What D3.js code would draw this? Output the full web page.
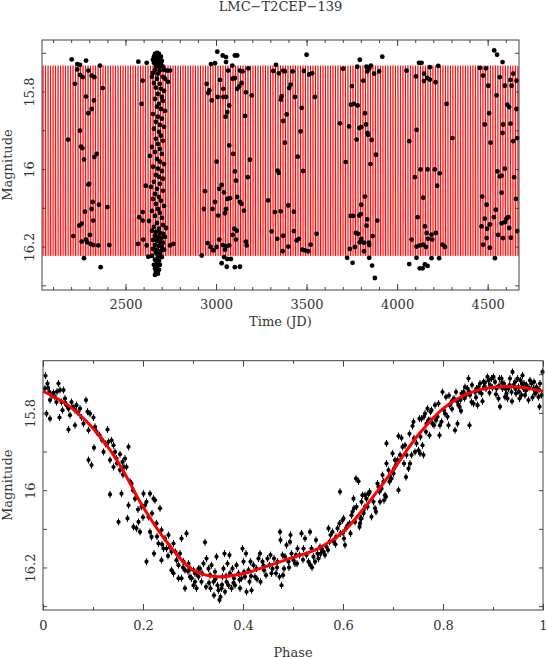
<!DOCTYPE html>
<html>
<head>
<meta charset="utf-8">
<script src="https://cdn.jsdelivr.net/npm/d3@7"></script>
<style>
  body { margin: 0; background: #fff; }
  svg text { font-family: "DejaVu Serif", serif; font-size: 13px; fill: #333; }
</style>
</head>
<body>
<div id="chart"></div>
<script>
const starName = "LMC\u2212T2CEP\u2212139";
const period = 13.8;   // days, read from the stripe spacing
const epoch = 2045;

const timeTicks = [2500, 3000, 3500, 4000, 4500];
const timeMinor = [2100, 2200, 2300, 2400, 2500, 2600, 2700, 2800, 2900, 3000, 3100, 3200, 3300, 3400,
                   3500, 3600, 3700, 3800, 3900, 4000, 4100, 4200, 4300, 4400, 4500, 4600];
const magTicks = [15.8, 16, 16.2];
const magMinor = [15.7, 15.8, 15.9, 16, 16.1, 16.2, 16.3];
const phaseTicks = [0, 0.2, 0.4, 0.6, 0.8, 1];
const phaseMinor = [0.1, 0.3, 0.5, 0.7, 0.9];

// fitted light curve (phase, magnitude)
const modelPhase = [0, 0.05, 0.1, 0.15, 0.2, 0.25, 0.3, 0.35, 0.4, 0.45, 0.5,
                    0.55, 0.6, 0.65, 0.7, 0.75, 0.8, 0.85, 0.9, 0.95, 1];
const modelMag = [15.744, 15.78, 15.84, 15.927, 16.043, 16.138, 16.207, 16.224, 16.216, 16.196, 16.174,
                  16.151, 16.108, 16.034, 15.948, 15.858, 15.789, 15.75, 15.734, 15.733, 15.744];

// observations: [JD - 2450000, I mag]
const timeObs = [
  [2203,15.717],[2282,15.720],[2234,15.729],[2249,15.731],[2221,15.780],[2234,15.743],[2249,15.757],[2264,15.763],
  [2295,15.746],[2313,15.759],[2328,15.763],[2359,15.733],[2374,15.791],[2282,15.813],[2326,15.823],[2313,15.845],
  [2295,15.856],[2249,15.901],[2184,15.924],[2254,15.942],[2262,15.946],[2341,15.961],[2328,15.969],[2271,15.975],
  [2295,16.040],[2300,16.038],[2319,16.085],[2354,16.092],[2400,16.098],[2276,16.110],[2313,16.103],[2322,16.133],
  [2258,16.141],[2245,16.146],[2212,16.173],[2304,16.170],[2258,16.187],[2282,16.182],[2289,16.189],[2308,16.193],
  [2322,16.196],[2350,16.197],[2411,16.196],[2271,16.230],[2363,16.253],
  [2571,15.723],[2617,15.726],[2595,15.772],[2589,15.832],[2612,16.043],[2576,16.124],[2595,16.133],[2595,16.111],
  [2598,16.182],[2569,16.193],[2617,16.197],[2626,16.226],[2746,16.197],[2764,16.193],[2746,15.746],
  [2663,15.703],[2674,15.700],[2685,15.703],[2657,15.710],[2679,15.710],[2696,15.710],[2652,15.718],[2668,15.718],
  [2690,15.718],[2701,15.721],[2657,15.726],[2679,15.726],[2696,15.729],[2668,15.734],[2685,15.736],[2707,15.736],
  [2663,15.744],[2690,15.746],[2713,15.744],[2652,15.752],[2679,15.754],[2729,15.746],
  [2646,15.762],[2674,15.767],[2707,15.762],[2718,15.767],[2657,15.778],[2690,15.780],[2735,15.775],[2668,15.790],
  [2696,15.793],[2713,15.798],[2679,15.806],[2701,15.814],[2663,15.819],[2707,15.824],[2685,15.832],[2674,15.839],
  [2696,15.845],[2718,15.850],[2652,15.858],[2679,15.865],[2701,15.870],[2668,15.878],[2690,15.886],[2713,15.891],
  [2657,15.896],[2685,15.904],[2696,15.914],[2668,15.922],[2707,15.927],[2679,15.935],[2646,15.943],[2690,15.948],
  [2663,15.956],[2701,15.961],[2635,15.966],[2674,15.974],[2690,15.981],[2713,15.987],[2652,15.994],[2679,15.999],
  [2701,16.005],[2668,16.015],[2685,16.020],[2707,16.025],[2657,16.033],[2690,16.038],[2641,16.046],[2674,16.051],
  [2707,16.056],[2663,16.064],[2685,16.072],[2652,16.077],[2696,16.082],[2668,16.090],[2713,16.095],[2679,16.103],
  [2646,16.108],[2690,16.113],[2663,16.121],[2701,16.126],[2630,16.134],[2674,16.139],[2707,16.144],[2657,16.149],
  [2685,16.154],[2724,16.152],
  [2646,16.159],[2668,16.162],[2690,16.165],[2707,16.167],[2663,16.172],[2679,16.175],[2696,16.178],[2718,16.175],
  [2652,16.183],[2674,16.185],[2690,16.188],[2707,16.190],[2663,16.196],[2685,16.198],[2701,16.201],[2652,16.206],
  [2674,16.208],[2696,16.211],[2713,16.208],[2668,16.216],[2690,16.219],[2646,16.224],[2679,16.227],[2701,16.227],
  [2663,16.234],[2685,16.237],[2674,16.242],[2657,16.247],[2690,16.247],[2674,16.252],[2663,16.257],[2685,16.260],
  [2668,16.265],[2679,16.270],[2663,16.273],
  [3007,15.697],[3037,15.707],[3055,15.711],[3104,15.707],[3117,15.707],[3055,15.724],[2972,15.729],[2994,15.727],
  [3090,15.733],[3067,15.746],[3132,15.746],[3147,15.748],[3178,15.740],[3022,15.770],[3092,15.767],[3104,15.765],
  [2948,15.780],[2963,15.797],[2957,15.804],[3040,15.793],[3117,15.793],[3128,15.787],[3141,15.778],[3009,15.814],
  [3040,15.814],[3055,15.814],[2976,15.823],[3073,15.836],[3062,15.853],[3053,15.865],[3160,15.863],[3165,15.802],
  [3197,15.810],[3073,15.939],[3095,15.961],[3003,15.981],[3187,15.976],[3104,16.006],[3110,16.030],[3175,16.021],
  [3031,16.041],[3018,16.051],[3044,16.060],[2939,16.057],[3062,16.077],[3077,16.075],[3117,16.072],[3132,16.085],
  [2994,16.085],[2981,16.103],[2933,16.103],[3055,16.103],[3141,16.090],[3154,16.107],[3012,16.120],[3049,16.114],
  [3101,16.154],[3114,16.159],[3092,16.170],[3110,16.182],[3018,16.182],[2954,16.191],[2970,16.201],[2985,16.210],
  [3003,16.201],[3037,16.196],[3055,16.199],[3073,16.197],[3049,16.208],[3165,16.187],[3169,16.197],[2921,16.223],
  [3044,16.227],[3062,16.232],[3082,16.232],[3031,16.243],[3059,16.252],[3104,16.253],[3132,16.252],[3288,16.081],
  [3331,15.731],[3316,15.747],[3347,15.753],[3371,15.746],[3380,15.748],[3423,15.748],[3500,15.705],[3485,15.747],
  [3515,15.756],[3531,15.753],[3412,15.782],[3404,15.791],[3436,15.814],[3362,15.812],[3358,15.821],[3390,15.859],
  [3371,15.876],[3473,15.842],[3546,15.814],[3467,15.903],[3380,15.932],[3451,15.968],[3340,16.004],[3347,16.010],
  [3481,16.005],[3399,16.094],[3325,16.111],[3357,16.109],[3430,16.110],[3307,16.161],[3371,16.172],[3430,16.160],
  [3338,16.180],[3458,16.180],[3445,16.184],[3555,16.167],[3522,16.195],[3399,16.200],[3368,16.212],[3476,16.208],
  [3491,16.210],[3509,16.212],
  [3918,15.710],[3794,15.718],[3780,15.736],[3831,15.736],[3846,15.740],[3855,15.733],[3702,15.741],[3835,15.748],
  [3873,15.754],[3901,15.748],[3813,15.772],[3750,15.786],[3745,15.834],[3761,15.832],[3782,15.836],[3822,15.856],
  [3684,15.882],[3735,15.890],[3791,15.894],[3802,15.892],[3828,15.885],[3840,15.912],[3837,15.907],[3859,15.925],
  [3776,15.924],[3883,15.963],[3853,15.987],[3716,15.982],[3822,16.071],[3802,16.092],[3743,16.121],[3757,16.121],
  [3791,16.120],[3800,16.116],[3835,16.130],[3831,16.146],[3890,16.133],[3772,16.165],[3785,16.167],[3802,16.180],
  [3865,16.173],[3739,16.206],[3767,16.201],[3794,16.189],[3817,16.190],[3844,16.190],[3817,16.212],[3846,16.196],
  [3724,16.229],[3754,16.242],[3846,16.229],[3862,16.249],[3877,16.281],
  [4052,15.746],[4121,15.726],[4135,15.726],[4104,15.761],[4149,15.754],[4181,15.737],[4227,15.734],[4166,15.765],
  [4181,15.769],[4148,15.773],[4212,15.776],[4273,15.832],[4306,15.920],[4107,15.899],[4067,15.928],[4098,16.021],
  [4129,16.001],[4168,16.001],[4208,16.001],[4236,16.011],[4221,16.043],[4144,16.074],[4113,16.124],[4153,16.148],
  [4163,16.165],[4214,16.165],[4190,16.169],[4171,16.180],[4194,16.182],[4080,16.182],[4107,16.200],[4125,16.197],
  [4144,16.195],[4159,16.201],[4251,16.195],[4264,16.201],[4107,16.229],[4190,16.230],[4232,16.230],[4067,16.245],
  [4153,16.246],[4168,16.250],[4125,16.256],[4141,16.256],
  [4536,15.694],[4552,15.705],[4582,15.724],[4457,15.739],[4490,15.740],[4475,15.759],[4641,15.754],[4567,15.763],
  [4626,15.770],[4659,15.772],[4503,15.785],[4595,15.785],[4632,15.785],[4549,15.810],[4608,15.834],[4619,15.840],
  [4659,15.845],[4508,15.856],[4484,15.885],[4585,15.885],[4626,15.883],[4582,15.907],[4663,15.920],[4641,15.928],
  [4516,15.932],[4554,16.006],[4595,15.999],[4567,16.019],[4577,16.017],[4646,16.021],[4577,16.061],[4470,16.071],
  [4656,16.077],[4494,16.092],[4534,16.124],[4545,16.105],[4484,16.128],[4604,16.128],[4613,16.124],[4577,16.140],
  [4595,16.137],[4466,16.148],[4512,16.143],[4619,16.152],[4497,16.154],[4558,16.170],[4585,16.178],[4628,16.177],
  [4494,16.178],[4475,16.195],[4512,16.203],[4540,16.230],[4663,16.160]
];

// the same observations folded with the period: [phase, I mag]
const phaseObs = [
  [0.005,15.704],[0.009,15.724],[0.004,15.737],[0.013,15.746],[0.021,15.748],[0.014,15.767],[0.024,15.759],[0.007,15.802],
  [0.014,15.815],[0.031,15.724],[0.034,15.741],[0.041,15.741],[0.027,15.772],[0.037,15.772],[0.044,15.763],[0.047,15.780],
  [0.039,15.793],[0.033,15.812],[0.051,15.789],[0.054,15.806],[0.057,15.772],[0.064,15.793],[0.067,15.780],[0.051,15.843],
  [0.064,15.832],[0.074,15.789],[0.077,15.812],[0.081,15.828],[0.086,15.767],[0.089,15.797],[0.094,15.802],[0.091,15.845],
  [0.101,15.812],[0.104,15.836],[0.107,15.849],[0.113,15.858],[0.102,15.890],[0.091,15.922],[0.097,15.935],[0.121,15.901],
  [0.129,15.843],[0.131,15.875],[0.137,15.871],[0.141,15.884],[0.134,15.922],[0.144,15.901],[0.147,15.918],[0.154,15.907],
  [0.159,15.927],[0.164,15.918],[0.171,15.888],[0.167,15.940],[0.154,15.948],[0.162,15.940],[0.141,15.940],[0.134,16.011],
  [0.151,16.082],[0.157,16.009],[0.171,16.039],[0.169,16.073],[0.174,15.978],[0.177,15.983],[0.184,16.022],[0.181,16.095],
  [0.187,16.099],[0.194,16.108],[0.191,16.082],[0.197,16.043],[0.201,16.009],[0.204,16.039],[0.207,16.030],[0.211,16.069],
  [0.214,16.108],[0.217,16.121],[0.214,16.009],[0.221,16.022],[0.224,16.026],[0.227,16.086],[0.231,16.138],[0.234,16.047],
  [0.237,16.103],[0.241,16.151],[0.244,16.125],[0.247,16.151],[0.251,16.116],[0.254,16.147],[0.257,16.159],[0.261,16.138],
  [0.267,16.181],[0.271,16.194],[0.274,16.164],[0.277,16.125],[0.281,16.185],[0.284,16.207],[0.287,16.112],[0.291,16.190],
  [0.294,16.224],[0.284,16.254],[0.277,16.228],[0.301,16.207],[0.297,16.228],[0.307,16.215],[0.311,16.203],[0.304,16.237],
  [0.207,16.185],[0.222,16.164],[0.237,16.181],[0.257,16.207],[0.261,16.215],[0.271,16.228],
  [0.118,15.870],[0.125,15.880],[0.148,15.930],[0.160,15.960],[0.180,16.000],[0.190,16.050],[0.200,16.070],[0.218,16.060],
  [0.228,16.120],[0.238,16.140],[0.250,16.170],[0.265,16.160],[0.280,16.200],[0.290,16.210],
  [0.294,16.203],[0.297,16.228],[0.301,16.246],[0.304,16.215],[0.307,16.254],[0.311,16.224],[0.314,16.203],[0.317,16.237],
  [0.321,16.190],[0.324,16.135],[0.326,16.250],[0.327,16.177],[0.331,16.203],[0.334,16.220],[0.335,16.254],[0.337,16.194],
  [0.341,16.237],[0.342,16.272],[0.344,16.211],[0.347,16.172],[0.349,16.246],[0.351,16.259],[0.353,16.284],[0.355,16.276],
  [0.357,16.254],[0.359,16.224],[0.361,16.203],[0.363,16.164],[0.364,16.263],[0.367,16.237],[0.369,16.190],[0.371,16.246],
  [0.373,16.168],[0.374,16.215],[0.377,16.254],[0.379,16.203],[0.382,16.228],[0.384,16.246],[0.387,16.194],[0.391,16.215],
  [0.394,16.254],[0.397,16.228],[0.399,16.151],[0.401,16.185],[0.404,16.224],[0.406,16.164],[0.407,16.263],[0.411,16.207],
  [0.413,16.237],[0.415,16.185],[0.417,16.259],[0.421,16.194],[0.424,16.224],[0.427,16.203],[0.431,16.177],[0.434,16.164],
  [0.435,16.237],[0.439,16.185],[0.442,16.207],[0.446,16.220],[0.449,16.177],[0.453,16.194],[0.455,16.168],[0.459,16.203],
  [0.462,16.177],[0.466,16.215],[0.469,16.185],[0.473,16.224],[0.474,16.108],[0.475,16.129],[0.477,16.246],[0.479,16.168],
  [0.482,16.203],[0.484,16.172],[0.487,16.142],[0.491,16.185],[0.494,16.134],[0.495,16.116],[0.497,16.164],[0.501,16.181],
  [0.504,16.190],[0.506,16.168],[0.509,16.151],[0.513,16.168],[0.517,16.112],[0.521,16.151],[0.524,16.125],[0.527,16.168],
  [0.531,16.185],[0.534,16.108],[0.535,16.194],[0.537,16.151],[0.541,16.172],[0.544,16.185],[0.546,16.129],[0.549,16.164],
  [0.551,16.177],[0.554,16.147],[0.557,16.151],[0.561,16.159],[0.564,16.168],[0.567,16.147],[0.571,16.099],[0.573,16.134],
  [0.575,16.116],[0.579,16.108],[0.582,16.134],[0.586,16.121],[0.589,16.099],[0.593,16.086],[0.594,16.004],[0.595,16.112],
  [0.599,16.078],[0.601,16.073],[0.602,16.125],[0.604,16.142],[0.606,16.099],[0.609,16.091],[0.613,16.086],[0.615,16.112],
  [0.617,16.065],[0.619,16.056],[0.621,16.022],[0.622,16.047],[0.624,16.082],[0.626,15.970],[0.627,16.043],[0.631,15.977],
  [0.633,16.095],[0.635,16.073],[0.637,16.030],[0.639,16.013],[0.641,16.052],[0.644,16.043],[0.647,16.022],[0.651,16.009],
  [0.653,16.004],
  [0.318,16.215],[0.332,16.240],[0.345,16.230],[0.358,16.245],[0.366,16.222],[0.381,16.240],[0.393,16.232],[0.402,16.212],
  [0.416,16.222],[0.428,16.230],[0.441,16.195],[0.457,16.215],[0.468,16.200],[0.480,16.220],[0.492,16.200],[0.508,16.190],
  [0.520,16.180],[0.538,16.200],[0.555,16.165],[0.570,16.155],[0.585,16.140],[0.600,16.110],
  [0.634,16.086],[0.637,16.073],[0.641,16.060],[0.644,16.013],[0.649,16.043],[0.651,16.009],[0.653,16.004],[0.657,16.069],
  [0.661,16.030],[0.664,16.047],[0.666,16.056],[0.669,15.983],[0.671,15.991],[0.673,16.004],[0.674,16.030],[0.677,15.996],
  [0.679,15.961],[0.681,15.978],[0.682,16.026],[0.684,16.013],[0.686,16.017],[0.687,15.931],[0.687,15.879],[0.691,15.948],
  [0.693,15.978],[0.695,15.970],[0.697,15.970],[0.699,15.905],[0.701,15.957],[0.702,15.944],[0.704,15.922],[0.706,15.935],
  [0.709,15.922],[0.711,16.000],[0.711,15.860],[0.714,15.909],[0.717,15.865],[0.719,15.888],[0.722,15.931],[0.724,15.884],
  [0.726,15.966],[0.727,15.909],[0.731,15.944],[0.733,15.854],[0.734,15.931],[0.737,15.909],[0.739,15.834],[0.741,15.823],
  [0.742,15.866],[0.744,15.901],[0.747,15.879],[0.751,15.897],[0.753,15.815],[0.754,15.905],[0.755,15.862],[0.757,15.815],
  [0.759,15.884],[0.761,15.909],[0.762,15.810],[0.764,15.802],[0.766,15.849],[0.767,15.828],[0.769,15.789],[0.771,15.819],
  [0.773,15.858],[0.774,15.819],[0.775,15.797],[0.777,15.793],[0.779,15.828],[0.782,15.832],[0.784,15.780],[0.786,15.819],
  [0.789,15.810],[0.791,15.776],[0.793,15.858],[0.794,15.832],[0.797,15.823],[0.799,15.746],[0.802,15.793],[0.804,15.802],
  [0.806,15.759],[0.809,15.810],[0.811,15.832],[0.813,15.780],[0.815,15.776],[0.819,15.767],[0.822,15.763],[0.824,15.845],
  [0.826,15.746],[0.829,15.828],[0.831,15.780],[0.833,15.784],[0.835,15.767],[0.837,15.750],[0.841,15.746],[0.844,15.733],
  [0.846,15.754],[0.849,15.737],[0.851,15.711],[0.853,15.832],[0.854,15.754],[0.857,15.772],[0.861,15.776],[0.864,15.746],
  [0.867,15.737],[0.869,15.780],[0.871,15.733],[0.874,15.724],[0.877,15.750],[0.881,15.720],[0.882,15.733],[0.886,15.737],
  [0.889,15.707],[0.891,15.716],[0.894,15.728],[0.897,15.711],[0.901,15.707],[0.904,15.720],[0.907,15.737],[0.911,15.763],
  [0.913,15.711],[0.914,15.784],[0.917,15.711],[0.919,15.737],[0.922,15.724],[0.924,15.759],[0.927,15.750],[0.929,15.763],
  [0.931,15.737],[0.934,15.711],[0.937,15.746],[0.939,15.694],[0.941,15.728],[0.944,15.720],[0.946,15.750],[0.949,15.711],
  [0.951,15.733],[0.953,15.763],[0.955,15.716],[0.957,15.754],[0.959,15.703],[0.961,15.737],[0.962,15.724],[0.964,15.754],
  [0.967,15.728],[0.971,15.767],[0.974,15.716],[0.977,15.724],[0.981,15.737],[0.982,15.720],[0.984,15.750],[0.987,15.733],
  [0.991,15.759],[0.993,15.784],[0.994,15.724],[0.997,15.754],[0.999,15.694],
  [0.812,15.755],[0.818,15.790],[0.828,15.770],[0.836,15.795],[0.843,15.762],[0.852,15.745],[0.858,15.728],[0.866,15.760],
  [0.872,15.745],[0.879,15.770],[0.884,15.722],[0.893,15.748],[0.899,15.735],[0.906,15.752],[0.912,15.730],[0.918,15.722],
  [0.925,15.738],[0.933,15.728],[0.938,15.770],[0.945,15.738],[0.952,15.745],[0.958,15.725],[0.966,15.742],[0.972,15.735],
  [0.979,15.760],[0.986,15.748],[0.992,15.740],[0.010,15.735],[0.018,15.755],[0.028,15.745],[0.045,15.775],[0.060,15.785],
  [0.070,15.800]
];

const width = 547, height = 659;
const topBox = { left: 42, right: 519, top: 40, bottom: 290 };
const botBox = { left: 43, right: 543, top: 360.7, bottom: 610 };

let svg = d3.select("#chart")
    .append("svg")
    .attr("width", width)
    .attr("height", height);

let xTime = d3.scaleLinear().domain([2039, 4673]).range([topBox.left, topBox.right]);
let yTop = d3.scaleLinear().domain([15.667, 16.312]).range([topBox.top, topBox.bottom]); // bright at top
let xPhase = d3.scaleLinear().domain([0, 1]).range([botBox.left, botBox.right]);
let yBot = d3.scaleLinear().domain([15.665, 16.31]).range([botBox.top, botBox.bottom]);

// frame + inward ticks on all four sides, pgplot style
function frame(box, x, y, xMajor, xMinor, xLabelY, yLabelX) {
    let g = svg.append("g").attr("color", "#444");
    const noDomain = s => s.select(".domain").remove();

    g.append("g").attr("transform", `translate(0,${box.bottom})`)
        .call(d3.axisBottom(x).tickValues(xMinor).tickSize(-3).tickFormat("")).call(noDomain);
    g.append("g").attr("transform", `translate(0,${box.top})`)
        .call(d3.axisTop(x).tickValues(xMinor).tickSize(-3).tickFormat("")).call(noDomain);
    g.append("g").attr("transform", `translate(0,${box.top})`)
        .call(d3.axisTop(x).tickValues(xMajor).tickSize(-6).tickFormat("")).call(noDomain);

    let xa = g.append("g").attr("transform", `translate(0,${box.bottom})`)
        .call(d3.axisBottom(x).tickValues(xMajor).tickSize(-6).tickFormat(d => String(d))).call(noDomain);
    xa.selectAll("text").attr("y", xLabelY).attr("dy", null);

    let ya = g.append("g").attr("transform", `translate(${box.left},0)`)
        .call(d3.axisLeft(y).tickValues(magMinor).tickSize(-4)
            .tickFormat(d => magTicks.includes(d) ? String(d) : "")).call(noDomain);
    ya.selectAll("text")
        .attr("x", 0).attr("dy", null).attr("y", yLabelX)
        .attr("transform", "rotate(-90)")
        .attr("text-anchor", "middle");
    g.append("g").attr("transform", `translate(${box.right},0)`)
        .call(d3.axisRight(y).tickValues(magMinor).tickSize(-4).tickFormat("")).call(noDomain);

    g.selectAll("text").attr("fill", "#333")
        .attr("font-family", null).attr("font-size", null);

    g.append("rect")
        .attr("x", box.left).attr("y", box.top)
        .attr("width", box.right - box.left).attr("height", box.bottom - box.top)
        .attr("fill", "none").attr("stroke", "#444").attr("stroke-width", 1);
}

svg.append("defs").append("clipPath").attr("id", "clipTop")
    .append("rect")
    .attr("x", topBox.left).attr("y", topBox.top)
    .attr("width", topBox.right - topBox.left).attr("height", topBox.bottom - topBox.top);

// ---- top panel: the model over time
const magRange = d3.extent(modelMag);
const [t0, t1] = xTime.domain();
let cycles = d3.range(Math.ceil((t0 - epoch) / period) - 1, Math.floor((t1 - epoch) / period) + 1)
    .map(k => epoch + k * period);

let clipped = svg.append("g").attr("clip-path", "url(#clipTop)");

// full model path (faint), then the crisp stroke of each cycle
let modelTime = cycles.flatMap(tc => modelPhase.map((p, i) => [tc + p * period, modelMag[i]]));
clipped.append("path")
    .datum(modelTime)
    .attr("d", d3.line().x(d => xTime(d[0])).y(d => yTop(d[1])))
    .attr("fill", "none")
    .attr("stroke", "#ff0000")
    .attr("stroke-width", 0.6)
    .attr("stroke-opacity", 0.35);

clipped.append("g")
    .selectAll("line")
    .data(cycles)
    .join("line")
    .attr("x1", d => xTime(d)).attr("x2", d => xTime(d))
    .attr("y1", yTop(magRange[0])).attr("y2", yTop(magRange[1]))
    .attr("stroke", "#ff0000")
    .attr("stroke-width", 1);

svg.append("g")
    .selectAll("circle")
    .data(timeObs)
    .join("circle")
    .attr("cx", d => xTime(d[0]))
    .attr("cy", d => yTop(d[1]))
    .attr("r", 2.4)
    .attr("fill", "#000");

frame(topBox, xTime, yTop, timeTicks, timeMinor, 18.5, -8.5);

// ---- bottom panel: phased light curve
let errBar = 3.5;
let pts = svg.append("g")
    .selectAll("g")
    .data(phaseObs)
    .join("g");
pts.append("line")
    .attr("x1", d => xPhase(d[0])).attr("x2", d => xPhase(d[0]))
    .attr("y1", d => yBot(d[1]) - errBar).attr("y2", d => yBot(d[1]) + errBar)
    .attr("stroke", "#000").attr("stroke-width", 1);
pts.append("circle")
    .attr("cx", d => xPhase(d[0]))
    .attr("cy", d => yBot(d[1]))
    .attr("r", 2.1)
    .attr("fill", "#000");

let model = d3.line()
    .x((d, i) => xPhase(modelPhase[i]))
    .y(d => yBot(d))
    .curve(d3.curveCatmullRom);

svg.append("path")
    .datum(modelMag)
    .attr("d", model)
    .attr("fill", "none")
    .attr("stroke", "#ff0000")
    .attr("stroke-width", 3);

frame(botBox, xPhase, yBot, phaseTicks, phaseMinor, 19.5, -8.5);

// ---- texts
svg.append("text")
    .attr("x", (topBox.left + topBox.right) / 2).attr("y", 11)
    .attr("text-anchor", "middle")
    .text(starName);

svg.append("text")
    .attr("x", (topBox.left + topBox.right) / 2).attr("y", 326)
    .attr("text-anchor", "middle")
    .text("Time (JD)");

svg.append("text")
    .attr("x", (botBox.left + botBox.right) / 2).attr("y", 657)
    .attr("text-anchor", "middle")
    .text("Phase");

for (let box of [topBox, botBox]) {
    svg.append("text")
        .attr("transform", `translate(11.5,${(box.top + box.bottom) / 2}) rotate(-90)`)
        .attr("text-anchor", "middle")
        .text("Magnitude");
}
</script>
</body>
</html>
